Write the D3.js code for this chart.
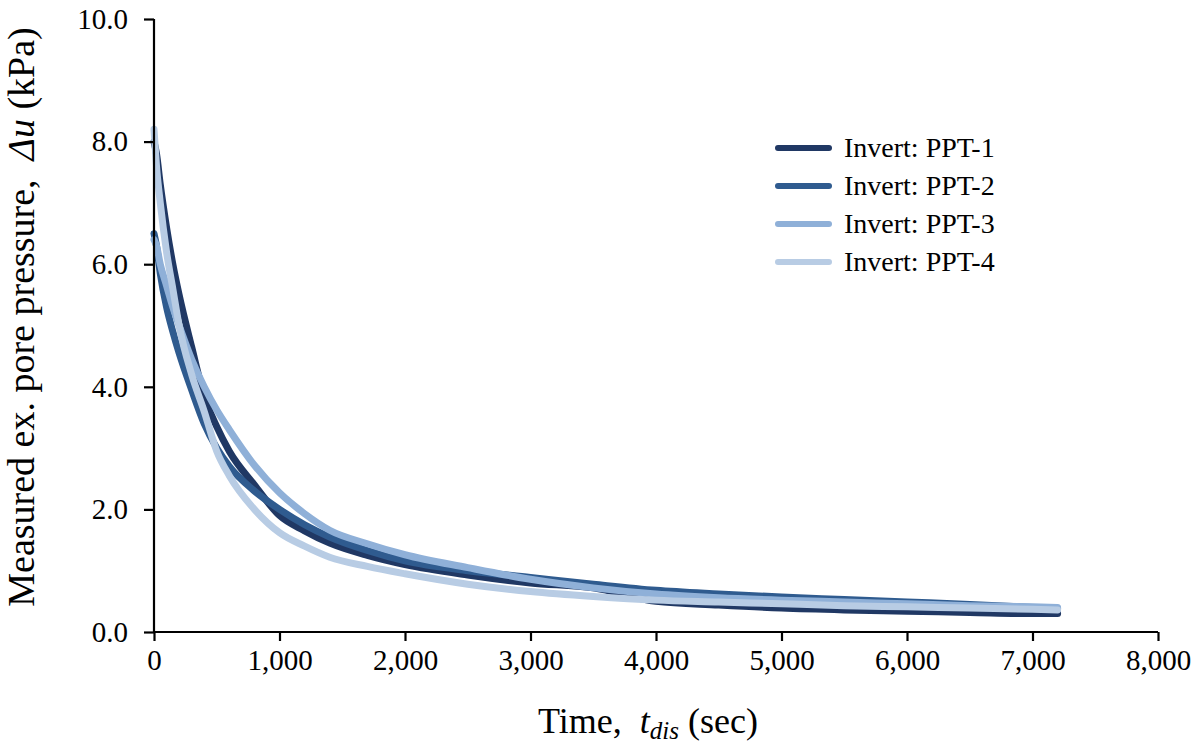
<!DOCTYPE html>
<html>
<head>
<meta charset="utf-8">
<script src="https://cdn.jsdelivr.net/npm/d3@7"></script>
<style>
  body { margin: 0; background: #fff; }
  svg text { font-family: "Times New Roman", Times, "Liberation Serif", "DejaVu Serif", serif; fill: #000; }
</style>
</head>
<body>
<svg id="chart" width="1199" height="751"></svg>
<script>
// time samples (sec) shared by all four sensors
const times = [0, 20, 50, 100, 150, 200, 300, 400, 500, 600, 800, 1000, 1200, 1400, 1700,
  2000, 2500, 3000, 3500, 4000, 4500, 5000, 5500, 6000, 6500, 7000, 7200];

// measured excess pore pressure, kPa
const ppt1 = [8.0, 7.8, 7.3, 6.6, 6.0, 5.5, 4.65, 3.85, 3.35, 2.95, 2.4, 1.9, 1.65, 1.45, 1.25,
  1.1, 0.93, 0.8, 0.72, 0.5, 0.44, 0.39, 0.36, 0.34, 0.32, 0.3, 0.3];
const ppt2 = [6.5, 6.3, 5.85, 5.3, 4.9, 4.55, 3.95, 3.4, 3.0, 2.7, 2.3, 2.0, 1.75, 1.55, 1.33,
  1.16, 1.0, 0.89, 0.78, 0.68, 0.62, 0.57, 0.53, 0.49, 0.45, 0.4, 0.38];
const ppt3 = [6.4, 6.3, 6.0, 5.65, 5.3, 5.0, 4.45, 4.0, 3.62, 3.3, 2.72, 2.27, 1.93, 1.66, 1.44,
  1.26, 1.05, 0.86, 0.72, 0.62, 0.56, 0.52, 0.49, 0.46, 0.43, 0.41, 0.4];
const ppt4 = [8.2, 7.6, 7.0, 6.2, 5.6, 5.0, 4.2, 3.6, 2.95, 2.55, 2.0, 1.62, 1.4, 1.22, 1.07,
  0.95, 0.78, 0.66, 0.58, 0.52, 0.49, 0.46, 0.43, 0.41, 0.39, 0.37, 0.36];

const seriesNames = ['Invert: PPT-1', 'Invert: PPT-2', 'Invert: PPT-3', 'Invert: PPT-4'];
const seriesValues = [ppt1, ppt2, ppt3, ppt4];
const seriesColors = ['#203864', '#2f5b8f', '#8fb0d8', '#b8cce4'];

const xTicks = [0, 1000, 2000, 3000, 4000, 5000, 6000, 7000, 8000];
const yTicks = [0, 2, 4, 6, 8, 10];

const FONT = '"Times New Roman", Times, "Liberation Serif", "DejaVu Serif", serif';

const svg = d3.select('#chart');
const margin = { left: 154, right: 41, top: 19, bottom: 119 };
const W = 1199, H = 751;

const x = d3.scaleLinear().domain([0, 8000]).range([margin.left, W - margin.right]);
const y = d3.scaleLinear().domain([0, 10]).range([H - margin.bottom, margin.top]);

// curves, drawn in series order so PPT-4 ends on top
const line = d3.line()
  .x((d) => x(d[0]))
  .y((d) => y(d[1]))
  .curve(d3.curveMonotoneX);

seriesValues.forEach((vals, i) => {
  svg.append('path')
    .datum(times.map((t, j) => [t, vals[j]]))
    .attr('d', line)
    .attr('fill', 'none')
    .attr('stroke', seriesColors[i])
    .attr('stroke-width', 7)
    .attr('stroke-linejoin', 'round')
    .attr('stroke-linecap', 'round');
});

// axes
const fmtX = d3.format(',');
const xAxis = svg.append('g')
  .attr('transform', 'translate(0,' + y(0) + ')')
  .call(d3.axisBottom(x).tickValues(xTicks).tickFormat(fmtX).tickSize(9).tickPadding(8));
const yAxis = svg.append('g')
  .attr('transform', 'translate(' + x(0) + ',0)')
  .call(d3.axisLeft(y).tickValues(yTicks).tickFormat(d3.format('.1f')).tickSize(10).tickPadding(16));

[xAxis, yAxis].forEach((g) => {
  g.select('.domain').attr('stroke', '#000').attr('stroke-width', 2.2);
  g.selectAll('.tick line').attr('stroke', '#000').attr('stroke-width', 2.2);
  g.selectAll('.tick text')
    .attr('font-family', FONT)
    .attr('font-size', 29)
    .attr('fill', '#000');
});
// plain axis lines without the end caps d3 adds
yAxis.select('.domain').attr('d', 'M0,' + y(10) + 'V' + y(0));
xAxis.select('.domain').attr('d', 'M' + x(0) + ',0H' + x(8000));

// axis titles
const xt = svg.append('text')
  .attr('x', 648)
  .attr('y', 733)
  .attr('text-anchor', 'middle')
  .attr('font-size', 36);
xt.append('tspan').text('Time,\u00a0 ');
xt.append('tspan').attr('font-style', 'italic').text('t');
xt.append('tspan').attr('font-style', 'italic').attr('font-size', 25).attr('dy', 6).text('dis');
xt.append('tspan').attr('dy', -6).text(' (sec)');

const yt = svg.append('text')
  .attr('transform', 'translate(34,' + 317 + ') rotate(-90)')
  .attr('text-anchor', 'middle')
  .attr('font-size', 38);
yt.append('tspan').text('Measured ex. pore pressure,\u00a0 ');
yt.append('tspan').attr('font-style', 'italic').text('\u0394u');
yt.append('tspan').text(' (kPa)');

// legend
const legend = svg.append('g').attr('transform', 'translate(776,148)');
seriesNames.forEach((name, i) => {
  const g = legend.append('g').attr('transform', 'translate(0,' + i * 38 + ')');
  g.append('line')
    .attr('x1', 2).attr('x2', 53)
    .attr('stroke', seriesColors[i])
    .attr('stroke-width', 6)
    .attr('stroke-linecap', 'round');
  g.append('text')
    .attr('x', 68)
    .attr('y', 9)
    .attr('font-size', 28)
    .text(name);
});
</script>
</body>
</html>
